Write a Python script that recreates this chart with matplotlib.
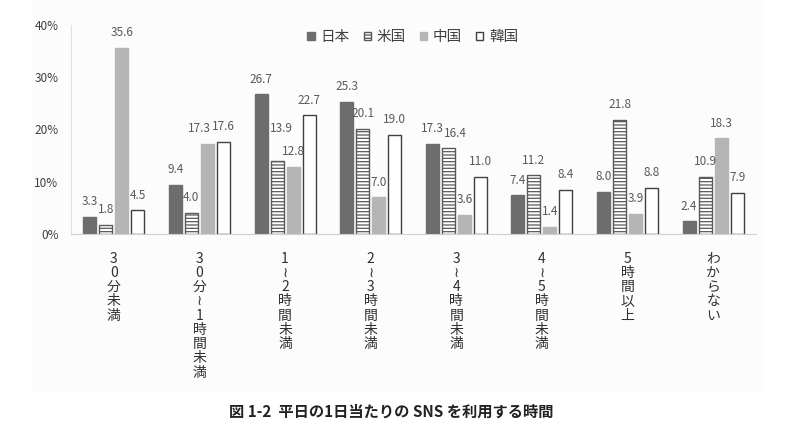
import numpy as np
import matplotlib
matplotlib.use('Agg')
import matplotlib.pyplot as plt
from matplotlib.patches import Rectangle

plt.rcParams['font.family'] = ['Noto Sans CJK JP', 'DejaVu Sans']
plt.rcParams['hatch.linewidth'] = 0.9
plt.rcParams['hatch.color'] = '#595959'

# data
categories = ['30分未満', '30分≀1時間未満', '1≀2時間未満', '2≀3時間未満',
              '3≀4時間未満', '4≀5時間未満', '5時間以上', 'わからない']
series = ['日本', '米国', '中国', '韓国']
japan = [3.3, 9.4, 26.7, 25.3, 17.3, 7.4, 8.0, 2.4]
usa = [1.8, 4.0, 13.9, 20.1, 16.4, 11.2, 21.8, 10.9]
china = [35.6, 17.3, 12.8, 7.0, 3.6, 1.4, 3.9, 18.3]
korea = [4.5, 17.6, 22.7, 19.0, 11.0, 8.4, 8.8, 7.9]
yticks = [0, 10, 20, 30, 40]
caption = '図 1-2  平日の1日当たりの SNS を利用する時間'

styles = [
    dict(color='#6d6d6d', edgecolor='#6d6d6d', hatch=None),
    dict(color='white', edgecolor='#595959', hatch='-----'),
    dict(color='#b5b5b5', edgecolor='#b5b5b5', hatch=None),
    dict(color='white', edgecolor='#404040', hatch=None),
]

# label nudges (points) where the original moved labels to avoid overlap
nudges = {(1, 2): (-6, 0), (2, 1): (3, 13), (4, 1): (5, 0)}

fig = plt.figure(figsize=(7.89, 4.34), dpi=100)
fig.patches.append(Rectangle((33 / 789, 1 - 391 / 434), (765 - 33) / 789, 391 / 434,
                             transform=fig.transFigure, facecolor='#fcfcfc',
                             edgecolor='none', zorder=-1))
ax = fig.add_axes([71 / 789, 1 - 234 / 434, (756 - 71) / 789, (234 - 25) / 434])
ax.patch.set_alpha(0)

x = np.arange(len(categories))
step = 0.187
width = 0.152
handles = []
for i, (name, vals) in enumerate(zip(series, [japan, usa, china, korea])):
    st = styles[i]
    bars = ax.bar(x + (i - 1.5) * step, vals, width, color=st['color'],
                  edgecolor=st['edgecolor'], hatch=st['hatch'], linewidth=1.0,
                  label=name)
    handles.append(bars)
    for j, (b, v) in enumerate(zip(bars, vals)):
        dx, dy = nudges.get((j, i), (0, 0))
        ax.annotate(f'{v:.1f}', (b.get_x() + b.get_width() / 2, v),
                    xytext=(dx, 11 + dy), textcoords='offset points',
                    ha='center', va='center', fontsize=8.5, color='#595959')

ax.set_xlim(-0.5, len(categories) - 0.5)
ax.set_ylim(0, 40)
ax.set_yticks(yticks)
ax.set_yticklabels([f'{t}%' for t in yticks], fontsize=8.5, color='#404040')
ax.tick_params(axis='y', length=0, pad=9)
ax.set_xticks([])
for s in ['top', 'right']:
    ax.spines[s].set_visible(False)
ax.spines['bottom'].set_color('#d0d0d0')
ax.spines['left'].set_color('#e0e0e0')

# vertical category labels
for xi, cat in zip(x, categories):
    ax.text(xi, -0.085, '\n'.join(cat), transform=ax.get_xaxis_transform(),
            ha='center', va='top', fontsize=10, linespacing=1.02,
            color='#303030')

fig.legend(handles=handles, labels=series, loc='center', ncol=4,
           bbox_to_anchor=(413 / 789, 1 - 37 / 434), frameon=False,
           fontsize=10.5, handlelength=0.5, handleheight=0.5,
           handletextpad=0.4, columnspacing=0.95, labelcolor='#404040')

fig.text(391 / 789, 1 - 412 / 434, caption, ha='center', va='center',
         fontsize=11, fontweight='bold', color='#222222')

fig.savefig('out.png', dpi=100)
